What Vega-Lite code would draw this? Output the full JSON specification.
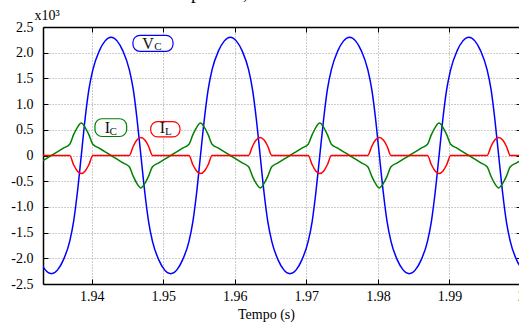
{
  "$schema": "https://vega.github.io/schema/vega-lite/v6.json",
  "width": 478,
  "height": 257,
  "autosize": "none",
  "padding": {"left": 43, "top": 27, "right": 0, "bottom": 38},
  "background": "white",
  "config": {"view": {"stroke": null}, "font": "Liberation Serif"},
  "title": {"text": "Tensão e corrente no capacitor, corrente no indutor", "anchor": "start", "frame": "group", "dx": -31, "dy": 20, "offset": 10, "baseline": "alphabetic", "font": "Liberation Serif", "fontSize": 19, "fontWeight": "normal", "color": "black"},
  "datasets": {
    "curves": [
      {"t": 1.93271, "vc": -2.03, "ic": -0.144, "il": 0},
      {"t": 1.93355, "vc": -2.23, "ic": -0.072, "il": 0},
      {"t": 1.93438, "vc": -2.3, "ic": 0, "il": 0},
      {"t": 1.93521, "vc": -2.23, "ic": 0.072, "il": 0},
      {"t": 1.93605, "vc": -2.03, "ic": 0.144, "il": 0},
      {"t": 1.93693, "vc": -1.67, "ic": 0.22, "il": 0},
      {"t": 1.93748, "vc": -1.28, "ic": 0.407, "il": -0.18},
      {"t": 1.93799, "vc": -0.735, "ic": 0.544, "il": -0.3},
      {"t": 1.93855, "vc": 0, "ic": 0.63, "il": -0.35},
      {"t": 1.9391, "vc": 0.735, "ic": 0.544, "il": -0.3},
      {"t": 1.93961, "vc": 1.28, "ic": 0.407, "il": -0.18},
      {"t": 1.94017, "vc": 1.67, "ic": 0.22, "il": 0},
      {"t": 1.94105, "vc": 2.03, "ic": 0.144, "il": 0},
      {"t": 1.94188, "vc": 2.23, "ic": 0.072, "il": 0},
      {"t": 1.94271, "vc": 2.3, "ic": 0, "il": 0},
      {"t": 1.94355, "vc": 2.23, "ic": -0.072, "il": 0},
      {"t": 1.94438, "vc": 2.03, "ic": -0.144, "il": 0},
      {"t": 1.94526, "vc": 1.67, "ic": -0.22, "il": 0},
      {"t": 1.94582, "vc": 1.28, "ic": -0.407, "il": 0.18},
      {"t": 1.94632, "vc": 0.735, "ic": -0.544, "il": 0.3},
      {"t": 1.94688, "vc": 0, "ic": -0.63, "il": 0.35},
      {"t": 1.94744, "vc": -0.735, "ic": -0.544, "il": 0.3},
      {"t": 1.94795, "vc": -1.28, "ic": -0.407, "il": 0.18},
      {"t": 1.9485, "vc": -1.67, "ic": -0.22, "il": 0},
      {"t": 1.94938, "vc": -2.03, "ic": -0.144, "il": 0},
      {"t": 1.95021, "vc": -2.23, "ic": -0.072, "il": 0},
      {"t": 1.95105, "vc": -2.3, "ic": 0, "il": 0},
      {"t": 1.95188, "vc": -2.23, "ic": 0.072, "il": 0},
      {"t": 1.95271, "vc": -2.03, "ic": 0.144, "il": 0},
      {"t": 1.9536, "vc": -1.67, "ic": 0.22, "il": 0},
      {"t": 1.95415, "vc": -1.28, "ic": 0.407, "il": -0.18},
      {"t": 1.95466, "vc": -0.735, "ic": 0.544, "il": -0.3},
      {"t": 1.95521, "vc": 0, "ic": 0.63, "il": -0.35},
      {"t": 1.95577, "vc": 0.735, "ic": 0.544, "il": -0.3},
      {"t": 1.95628, "vc": 1.28, "ic": 0.407, "il": -0.18},
      {"t": 1.95683, "vc": 1.67, "ic": 0.22, "il": 0},
      {"t": 1.95771, "vc": 2.03, "ic": 0.144, "il": 0},
      {"t": 1.95855, "vc": 2.23, "ic": 0.072, "il": 0},
      {"t": 1.95938, "vc": 2.3, "ic": 0, "il": 0},
      {"t": 1.96021, "vc": 2.23, "ic": -0.072, "il": 0},
      {"t": 1.96105, "vc": 2.03, "ic": -0.144, "il": 0},
      {"t": 1.96193, "vc": 1.67, "ic": -0.22, "il": 0},
      {"t": 1.96248, "vc": 1.28, "ic": -0.407, "il": 0.18},
      {"t": 1.96299, "vc": 0.735, "ic": -0.544, "il": 0.3},
      {"t": 1.96355, "vc": 0, "ic": -0.63, "il": 0.35},
      {"t": 1.9641, "vc": -0.735, "ic": -0.544, "il": 0.3},
      {"t": 1.96461, "vc": -1.28, "ic": -0.407, "il": 0.18},
      {"t": 1.96517, "vc": -1.67, "ic": -0.22, "il": 0},
      {"t": 1.96605, "vc": -2.03, "ic": -0.144, "il": 0},
      {"t": 1.96688, "vc": -2.23, "ic": -0.072, "il": 0},
      {"t": 1.96771, "vc": -2.3, "ic": 0, "il": 0},
      {"t": 1.96855, "vc": -2.23, "ic": 0.072, "il": 0},
      {"t": 1.96938, "vc": -2.03, "ic": 0.144, "il": 0},
      {"t": 1.97026, "vc": -1.67, "ic": 0.22, "il": 0},
      {"t": 1.97082, "vc": -1.28, "ic": 0.407, "il": -0.18},
      {"t": 1.97132, "vc": -0.735, "ic": 0.544, "il": -0.3},
      {"t": 1.97188, "vc": 0, "ic": 0.63, "il": -0.35},
      {"t": 1.97244, "vc": 0.735, "ic": 0.544, "il": -0.3},
      {"t": 1.97294, "vc": 1.28, "ic": 0.407, "il": -0.18},
      {"t": 1.9735, "vc": 1.67, "ic": 0.22, "il": 0},
      {"t": 1.97438, "vc": 2.03, "ic": 0.144, "il": 0},
      {"t": 1.97521, "vc": 2.23, "ic": 0.072, "il": 0},
      {"t": 1.97605, "vc": 2.3, "ic": 0, "il": 0},
      {"t": 1.97688, "vc": 2.23, "ic": -0.072, "il": 0},
      {"t": 1.97771, "vc": 2.03, "ic": -0.144, "il": 0},
      {"t": 1.97859, "vc": 1.67, "ic": -0.22, "il": 0},
      {"t": 1.97915, "vc": 1.28, "ic": -0.407, "il": 0.18},
      {"t": 1.97966, "vc": 0.735, "ic": -0.544, "il": 0.3},
      {"t": 1.98021, "vc": 0, "ic": -0.63, "il": 0.35},
      {"t": 1.98077, "vc": -0.735, "ic": -0.544, "il": 0.3},
      {"t": 1.98128, "vc": -1.28, "ic": -0.407, "il": 0.18},
      {"t": 1.98183, "vc": -1.67, "ic": -0.22, "il": 0},
      {"t": 1.98271, "vc": -2.03, "ic": -0.144, "il": 0},
      {"t": 1.98355, "vc": -2.23, "ic": -0.072, "il": 0},
      {"t": 1.98438, "vc": -2.3, "ic": 0, "il": 0},
      {"t": 1.98521, "vc": -2.23, "ic": 0.072, "il": 0},
      {"t": 1.98605, "vc": -2.03, "ic": 0.144, "il": 0},
      {"t": 1.98693, "vc": -1.67, "ic": 0.22, "il": 0},
      {"t": 1.98748, "vc": -1.28, "ic": 0.407, "il": -0.18},
      {"t": 1.98799, "vc": -0.735, "ic": 0.544, "il": -0.3},
      {"t": 1.98855, "vc": 0, "ic": 0.63, "il": -0.35},
      {"t": 1.9891, "vc": 0.735, "ic": 0.544, "il": -0.3},
      {"t": 1.98961, "vc": 1.28, "ic": 0.407, "il": -0.18},
      {"t": 1.99017, "vc": 1.67, "ic": 0.22, "il": 0},
      {"t": 1.99105, "vc": 2.03, "ic": 0.144, "il": 0},
      {"t": 1.99188, "vc": 2.23, "ic": 0.072, "il": 0},
      {"t": 1.99271, "vc": 2.3, "ic": 0, "il": 0},
      {"t": 1.99355, "vc": 2.23, "ic": -0.072, "il": 0},
      {"t": 1.99438, "vc": 2.03, "ic": -0.144, "il": 0},
      {"t": 1.99526, "vc": 1.67, "ic": -0.22, "il": 0},
      {"t": 1.99582, "vc": 1.28, "ic": -0.407, "il": 0.18},
      {"t": 1.99632, "vc": 0.735, "ic": -0.544, "il": 0.3},
      {"t": 1.99688, "vc": 0, "ic": -0.63, "il": 0.35},
      {"t": 1.99744, "vc": -0.735, "ic": -0.544, "il": 0.3},
      {"t": 1.99795, "vc": -1.28, "ic": -0.407, "il": 0.18},
      {"t": 1.9985, "vc": -1.67, "ic": -0.22, "il": 0},
      {"t": 1.99938, "vc": -2.03, "ic": -0.144, "il": 0},
      {"t": 2.00021, "vc": -2.23, "ic": -0.072, "il": 0}
    ],
    "boxes": [
      {"t1": 1.94577, "t2": 1.95137, "v1": 2.339, "v2": 2.027, "series": "vc"},
      {"t1": 1.94046, "t2": 1.94489, "v1": 0.715, "v2": 0.37, "series": "ic"},
      {"t1": 1.94825, "t2": 1.95234, "v1": 0.66, "v2": 0.362, "series": "il"}
    ],
    "mainText": [
      {"t": 1.94787, "v": 2.076, "txt": "V"},
      {"t": 1.94221, "v": 0.44, "txt": "I"},
      {"t": 1.9499, "v": 0.43, "txt": "I"}
    ],
    "subText": [
      {"t": 1.94927, "v": 2.052, "txt": "C"},
      {"t": 1.94302, "v": 0.407, "txt": "C"},
      {"t": 1.95072, "v": 0.397, "txt": "L"}
    ]
  },
  "layer": [
    {
      "data": {"name": "curves"},
      "transform": [{"fold": ["vc", "ic", "il"], "as": ["series", "value"]}],
      "mark": {"type": "line", "interpolate": "monotone", "strokeWidth": 1.5, "clip": true},
      "encoding": {
        "x": {"field": "t", "type": "quantitative",
          "scale": {"domain": [1.9332, 2.0], "nice": false, "zero": false},
          "axis": {"orient": "bottom", "values": [1.94, 1.95, 1.96, 1.97, 1.98, 1.99, 2.0],
            "labelExpr": "datum.value >= 1.9999 ? '2' : format(datum.value, '.2f')",
            "title": "Tempo (s)", "grid": true, "gridDash": [1, 2], "gridColor": "#9a9a9a", "gridWidth": 1,
            "tickSize": -5, "tickColor": "black", "labelPadding": 10, "domainColor": "black", "domainWidth": 1.5,
            "labelFont": "Liberation Serif", "labelFontSize": 14, "labelColor": "black", "labelFlush": false, "labelOverlap": false,
            "titleFont": "Liberation Serif", "titleFontSize": 14, "titleFontWeight": "normal", "titleColor": "black",
            "titleX": 223, "titleY": 34, "titleBaseline": "alphabetic", "titleAlign": "center", "titleAnchor": null}},
        "y": {"field": "value", "type": "quantitative",
          "scale": {"domain": [-2.5, 2.5], "nice": false, "zero": false},
          "axis": {"orient": "left", "values": [-2.5, -2, -1.5, -1, -0.5, 0, 0.5, 1, 1.5, 2, 2.5],
            "labelExpr": "datum.value == 0 ? '0' : replace(format(datum.value, '.1f'), '\u2212', '-')",
            "title": "x10\u00b3", "grid": true, "gridDash": [1, 2], "gridColor": "#9a9a9a", "gridWidth": 1,
            "tickSize": -5, "tickColor": "black", "labelPadding": 15, "domainColor": "black", "domainWidth": 1.5,
            "labelFont": "Liberation Serif", "labelFontSize": 14, "labelColor": "black", "labelFlush": false, "labelOverlap": false,
            "titleFont": "Liberation Serif", "titleFontSize": 14, "titleFontWeight": "normal", "titleColor": "black",
            "titleAngle": 0, "titleX": -9, "titleY": -8, "titleAlign": "left", "titleBaseline": "alphabetic", "titleAnchor": null}},
        "color": {"field": "series", "type": "nominal",
          "scale": {"domain": ["vc", "ic", "il"], "range": ["#0000ff", "#008000", "#ff0000"]}, "legend": null}
      }
    },
    {
      "data": {"name": "boxes"},
      "mark": {"type": "rect", "fill": "white", "strokeWidth": 1.2, "cornerRadius": 7},
      "encoding": {
        "x": {"field": "t1", "type": "quantitative",
          "axis": {"orient": "top", "values": [1.94, 1.95, 1.96, 1.97, 1.98, 1.99, 2.0], "labels": false, "title": null, "grid": false,
            "tickSize": -5, "tickColor": "black", "domainColor": "black", "domainWidth": 1.5}},
        "x2": {"field": "t2"},
        "y": {"field": "v1", "type": "quantitative",
          "axis": {"orient": "right", "values": [-2.5, -2, -1.5, -1, -0.5, 0, 0.5, 1, 1.5, 2, 2.5], "labels": false, "title": null, "grid": false,
            "tickSize": -5, "tickColor": "black", "domainColor": "black", "domainWidth": 1.5}},
        "y2": {"field": "v2"},
        "stroke": {"field": "series", "type": "nominal",
          "scale": {"domain": ["vc", "ic", "il"], "range": ["#0000ff", "#008000", "#ff0000"]}, "legend": null}
      }
    },
    {
      "data": {"name": "mainText"},
      "mark": {"type": "text", "font": "Liberation Serif", "fontSize": 16, "color": "#111111", "align": "center", "baseline": "alphabetic"},
      "encoding": {
        "x": {"field": "t", "type": "quantitative", "axis": null},
        "y": {"field": "v", "type": "quantitative", "axis": null},
        "text": {"field": "txt"}
      }
    },
    {
      "data": {"name": "subText"},
      "mark": {"type": "text", "font": "Liberation Serif", "fontSize": 11, "color": "#111111", "align": "center", "baseline": "alphabetic"},
      "encoding": {
        "x": {"field": "t", "type": "quantitative", "axis": null},
        "y": {"field": "v", "type": "quantitative", "axis": null},
        "text": {"field": "txt"}
      }
    }
  ],
  "resolve": {"axis": {"x": "independent", "y": "independent"}}
}
